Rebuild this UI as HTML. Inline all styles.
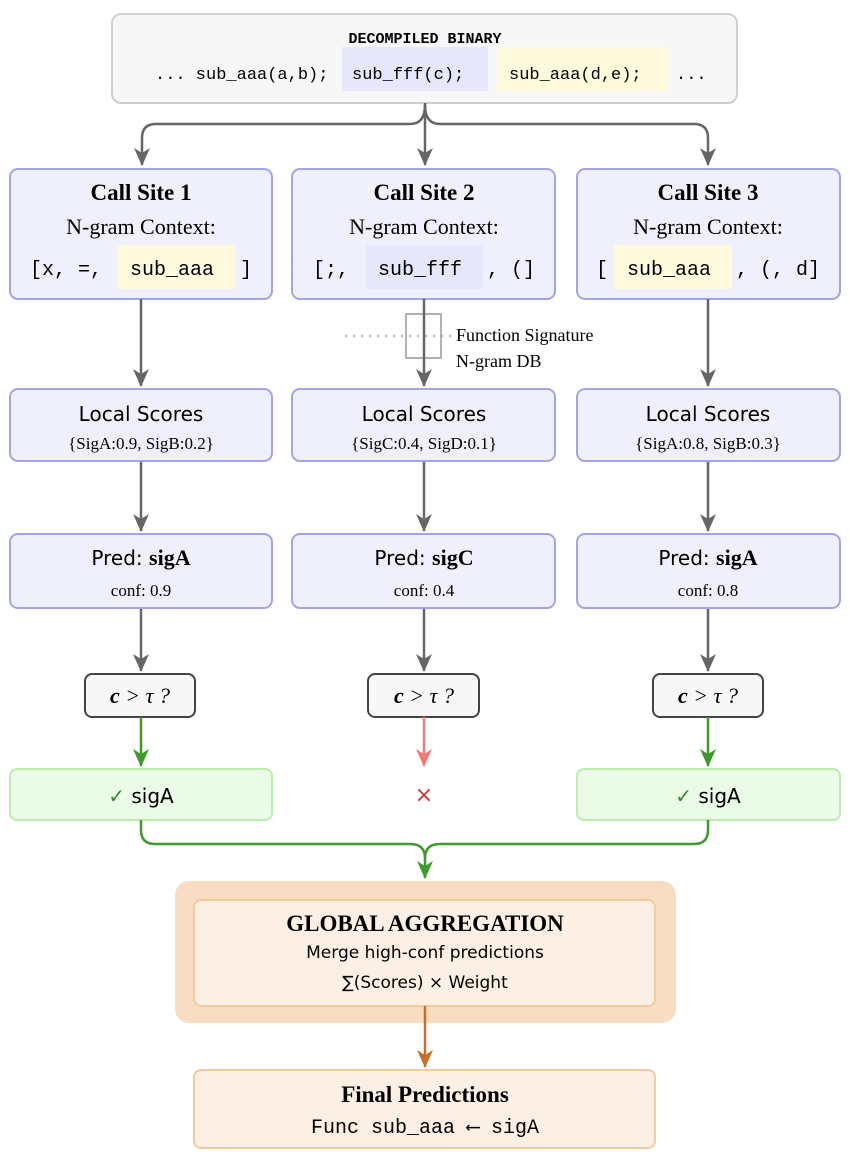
<!DOCTYPE html>
<html><head><meta charset="utf-8"><style>
html,body{margin:0;padding:0;background:#fff;}
svg{display:block;}
.ser{font-family:"Liberation Serif",serif;}
.mono{font-family:"Liberation Mono",monospace;}
.sans{font-family:"DejaVu Sans","Liberation Sans",sans-serif;}
</style></head><body>
<svg width="850" height="1162" viewBox="0 0 850 1162" xmlns="http://www.w3.org/2000/svg">
<defs>
<marker id="ag" markerWidth="20" markerHeight="18" refX="17" refY="9" orient="auto" markerUnits="userSpaceOnUse"><path d="M0,1 L18,9 L0,17 L5,9 z" fill="#666"/></marker>
<marker id="agr" markerWidth="20" markerHeight="18" refX="17" refY="9" orient="auto" markerUnits="userSpaceOnUse"><path d="M0,1 L18,9 L0,17 L5,9 z" fill="#3f9a2e"/></marker>
<marker id="ar" markerWidth="20" markerHeight="18" refX="17" refY="9" orient="auto" markerUnits="userSpaceOnUse"><path d="M0,1 L18,9 L0,17 L5,9 z" fill="#ee7a7a"/></marker>
<marker id="ao" markerWidth="20" markerHeight="18" refX="17" refY="9" orient="auto" markerUnits="userSpaceOnUse"><path d="M0,1 L18,9 L0,17 L5,9 z" fill="#c8702a"/></marker>
</defs>

<rect x="112" y="14" width="625" height="89" rx="9" fill="#f7f7f7" stroke="#d0d0d0" stroke-width="2"/>
<text x="425" y="43" text-anchor="middle" class="mono" font-weight="bold" font-size="15">DECOMPILED BINARY</text>
<rect x="342" y="47" width="146" height="44" fill="#e6e7fb"/>
<rect x="497" y="47" width="171" height="44" fill="#fffadc"/>
<text y="79" class="mono" font-size="17"><tspan x="155">... sub_aaa(a,b);</tspan><tspan x="352">sub_fff(c);</tspan><tspan x="509">sub_aaa(d,e);</tspan><tspan x="676">...</tspan></text>

<g fill="none" stroke="#666" stroke-width="2.5">
<path d="M425,103 L425,165" marker-end="url(#ag)"/>
<path d="M425,105 Q425,124 410,124 L156,124 Q142,124 142,138 L142,165" marker-end="url(#ag)"/>
<path d="M425,105 Q425,124 440,124 L694,124 Q708,124 708,138 L708,165" marker-end="url(#ag)"/>
</g>

<g fill="#eff0fc" stroke="#a3a3ea" stroke-width="2">
<rect x="10" y="169" width="262" height="130" rx="8"/>
<rect x="292" y="169" width="263" height="130" rx="8"/>
<rect x="577" y="169" width="263" height="130" rx="8"/>
</g>
<rect x="117" y="245" width="118" height="44" fill="#fffadc"/>
<rect x="366" y="245" width="117" height="44" fill="#e6e7fb"/>
<rect x="614" y="245" width="118" height="44" fill="#fffadc"/>
<g class="ser" text-anchor="middle">
<text x="141" y="200" font-size="23" font-weight="bold">Call Site 1</text>
<text x="424" y="200" font-size="23" font-weight="bold">Call Site 2</text>
<text x="708" y="200" font-size="23" font-weight="bold">Call Site 3</text>
<text x="141" y="234" font-size="22">N-gram Context:</text>
<text x="424" y="234" font-size="22">N-gram Context:</text>
<text x="708" y="234" font-size="22">N-gram Context:</text>
</g>
<g class="mono" font-size="20">
<text y="275"><tspan x="30">[x, =,</tspan><tspan x="130">sub_aaa</tspan><tspan x="240">]</tspan></text>
<text y="275"><tspan x="313">[;,</tspan><tspan x="378">sub_fff</tspan><tspan x="487">, (]</tspan></text>
<text y="275"><tspan x="596">[</tspan><tspan x="627">sub_aaa</tspan><tspan x="736">, (, d]</tspan></text>
</g>

<line x1="345" y1="336" x2="455" y2="336" stroke="#bbb" stroke-width="2.5" stroke-dasharray="2,6"/>
<rect x="406" y="314" width="35" height="44" fill="none" stroke="#999" stroke-width="1.5"/>
<text x="456" y="341" class="ser" font-size="18">Function Signature</text>
<text x="456" y="367" class="ser" font-size="18">N-gram DB</text>

<g fill="none" stroke="#666" stroke-width="2.5">
<path d="M141,299 L141,386" marker-end="url(#ag)"/>
<path d="M424,299 L424,386" marker-end="url(#ag)"/>
<path d="M708,299 L708,386" marker-end="url(#ag)"/>
<path d="M141,461 L141,531" marker-end="url(#ag)"/>
<path d="M424,461 L424,531" marker-end="url(#ag)"/>
<path d="M708,461 L708,531" marker-end="url(#ag)"/>
<path d="M141,608 L141,671" marker-end="url(#ag)"/>
<path d="M424,608 L424,671" marker-end="url(#ag)"/>
<path d="M708,608 L708,671" marker-end="url(#ag)"/>
</g>

<g fill="#eff0fc" stroke="#a3a3ea" stroke-width="2">
<rect x="10" y="389" width="262" height="72" rx="8"/>
<rect x="292" y="389" width="263" height="72" rx="8"/>
<rect x="577" y="389" width="263" height="72" rx="8"/>
<rect x="10" y="534" width="262" height="74" rx="8"/>
<rect x="292" y="534" width="263" height="74" rx="8"/>
<rect x="577" y="534" width="263" height="74" rx="8"/>
</g>
<g class="sans" text-anchor="middle">
<text x="141" y="421" font-size="20">Local Scores</text>
<text x="424" y="421" font-size="20">Local Scores</text>
<text x="708" y="421" font-size="20">Local Scores</text>
<text x="141" y="565" font-size="20">Pred: <tspan class="ser" font-weight="bold" font-size="22">sigA</tspan></text>
<text x="424" y="565" font-size="20">Pred: <tspan class="ser" font-weight="bold" font-size="22">sigC</tspan></text>
<text x="708" y="565" font-size="20">Pred: <tspan class="ser" font-weight="bold" font-size="22">sigA</tspan></text>
</g>
<g class="ser" text-anchor="middle" font-size="17">
<text x="141" y="449">{SigA:0.9,  SigB:0.2}</text>
<text x="424" y="449">{SigC:0.4,  SigD:0.1}</text>
<text x="708" y="449">{SigA:0.8,  SigB:0.3}</text>
<text x="141" y="596">conf:  0.9</text>
<text x="424" y="596">conf:  0.4</text>
<text x="708" y="596">conf:  0.8</text>
</g>

<g fill="#f7f7f7" stroke="#444" stroke-width="2">
<rect x="85" y="674" width="110" height="43" rx="7"/>
<rect x="368" y="674" width="111" height="43" rx="7"/>
<rect x="653" y="674" width="110" height="43" rx="7"/>
</g>
<g class="ser" text-anchor="middle" font-size="22" font-style="italic">
<text x="140" y="703"><tspan font-weight="bold">c</tspan> &gt; τ ?</text>
<text x="424" y="703"><tspan font-weight="bold">c</tspan> &gt; τ ?</text>
<text x="708" y="703"><tspan font-weight="bold">c</tspan> &gt; τ ?</text>
</g>

<g fill="none" stroke-width="2.5">
<path d="M141,717 L141,766" stroke="#3f9a2e" marker-end="url(#agr)"/>
<path d="M708,717 L708,766" stroke="#3f9a2e" marker-end="url(#agr)"/>
<path d="M424,717 L424,766" stroke="#ee7a7a" marker-end="url(#ar)"/>
</g>
<text x="424" y="802" text-anchor="middle" class="sans" font-size="22" fill="#c83a3a">×</text>

<g fill="#eafbe7" stroke="#b8efaa" stroke-width="2">
<rect x="10" y="769" width="262" height="51" rx="7"/>
<rect x="577" y="769" width="263" height="51" rx="7"/>
</g>
<g class="sans" text-anchor="middle" font-size="20">
<text x="141" y="803"><tspan fill="#2f8a2a">✓</tspan> sigA</text>
<text x="708" y="803"><tspan fill="#2f8a2a">✓</tspan> sigA</text>
</g>

<g fill="none" stroke="#3f9a2e" stroke-width="2.5">
<path d="M141,820 L141,830 Q141,844 155,844 L410,844 Q425,844 425,858 L425,878" marker-end="url(#agr)"/>
<path d="M708,820 L708,830 Q708,844 694,844 L440,844 Q425,844 425,858"/>
</g>

<rect x="175" y="881" width="501" height="142" rx="14" fill="#f8ddc2"/>
<rect x="194" y="900" width="461" height="106" rx="7" fill="#fcefe3" stroke="#f3cb9f" stroke-width="2"/>
<text x="425" y="931" text-anchor="middle" class="ser" font-weight="bold" font-size="23">GLOBAL AGGREGATION</text>
<text x="425" y="958" text-anchor="middle" class="sans" font-size="17">Merge high-conf predictions</text>
<text x="425" y="988" text-anchor="middle" class="sans" font-size="17">∑(Scores)  ×  Weight</text>
<path d="M425,1006 L425,1067" fill="none" stroke="#c8702a" stroke-width="2.5" marker-end="url(#ao)"/>
<rect x="194" y="1070" width="461" height="78" rx="7" fill="#fcefe3" stroke="#f3cb9f" stroke-width="2"/>
<text x="425" y="1102" text-anchor="middle" class="ser" font-weight="bold" font-size="23">Final Predictions</text>
<text x="425" y="1133" text-anchor="middle" class="mono" font-size="20">Func sub_aaa ⟵ sigA</text>
</svg>
</body></html>
